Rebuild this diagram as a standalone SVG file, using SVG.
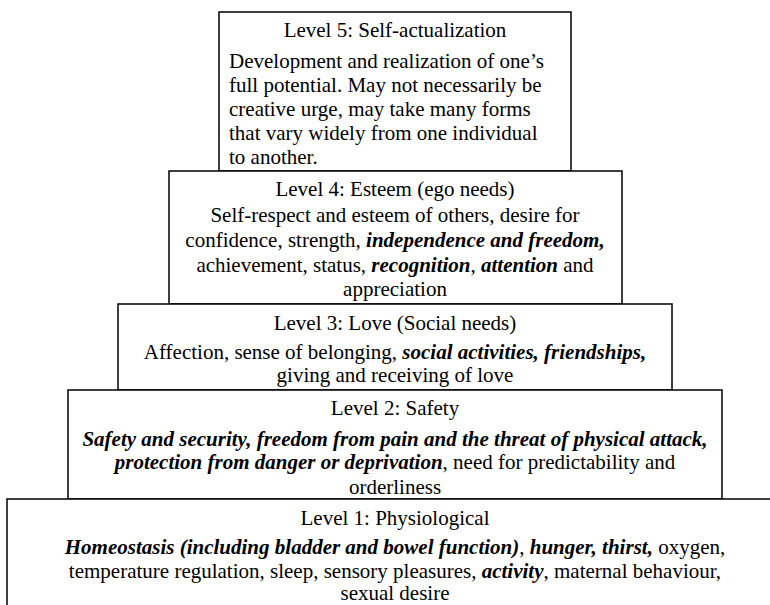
<svg xmlns="http://www.w3.org/2000/svg" width="770" height="605" viewBox="0 0 770 605">
<style>
.box{fill:#fff;stroke:#000;stroke-width:1.5}
.c{text-anchor:middle}
.bi{font-weight:bold;font-style:italic}
</style>
<rect x="0" y="0" width="770" height="605" fill="#fff"/>
<g font-family="Liberation Serif, Tinos, DejaVu Serif, serif" font-size="21" fill="#000">
<g id="level5">
<rect class="box" x="219" y="12" width="352" height="159"/>
<text class="c" x="395" y="37">Level 5: Self-actualization</text>
<text x="229" y="68">Development and realization of one’s</text>
<text x="229" y="92">full potential. May not necessarily be</text>
<text x="229" y="116">creative urge, may take many forms</text>
<text x="229" y="140">that vary widely from one individual</text>
<text x="229" y="164">to another.</text>
</g>
<g id="level4">
<rect class="box" x="169" y="171" width="453" height="133"/>
<text class="c" x="395" y="196">Level 4: Esteem (ego needs)</text>
<text class="c" x="395" y="222">Self-respect and esteem of others, desire for</text>
<text class="c" x="395" y="247">confidence, strength, <tspan class="bi">independence and freedom,</tspan></text>
<text class="c" x="395" y="272">achievement, status, <tspan class="bi">recognition</tspan>, <tspan class="bi">attention</tspan> and</text>
<text class="c" x="395" y="296">appreciation</text>
</g>
<g id="level3">
<rect class="box" x="118" y="304" width="554" height="86"/>
<text class="c" x="395" y="330">Level 3: Love (Social needs)</text>
<text class="c" x="395" y="359">Affection, sense of belonging, <tspan class="bi">social activities, friendships,</tspan></text>
<text class="c" x="395" y="382">giving and receiving of love</text>
</g>
<g id="level2">
<rect class="box" x="68" y="390" width="654" height="109"/>
<text class="c" x="395" y="415">Level 2: Safety</text>
<text class="c" x="395" y="446"><tspan class="bi">Safety and security, freedom from pain and the threat of physical attack,</tspan></text>
<text class="c" x="395" y="469"><tspan class="bi">protection from danger or deprivation</tspan>, need for predictability and</text>
<text class="c" x="395" y="494">orderliness</text>
</g>
<g id="level1">
<rect class="box" x="7" y="499" width="780" height="120"/>
<text class="c" x="395" y="525">Level 1: Physiological</text>
<text class="c" x="395" y="554"><tspan class="bi">Homeostasis (including bladder and bowel function)</tspan>, <tspan class="bi">hunger, thirst,</tspan> oxygen,</text>
<text class="c" x="395" y="578">temperature regulation, sleep, sensory pleasures, <tspan class="bi">activity</tspan>, maternal behaviour,</text>
<text class="c" x="395" y="600">sexual desire</text>
</g>
</g>
<g id="connectors"></g>
</svg>
